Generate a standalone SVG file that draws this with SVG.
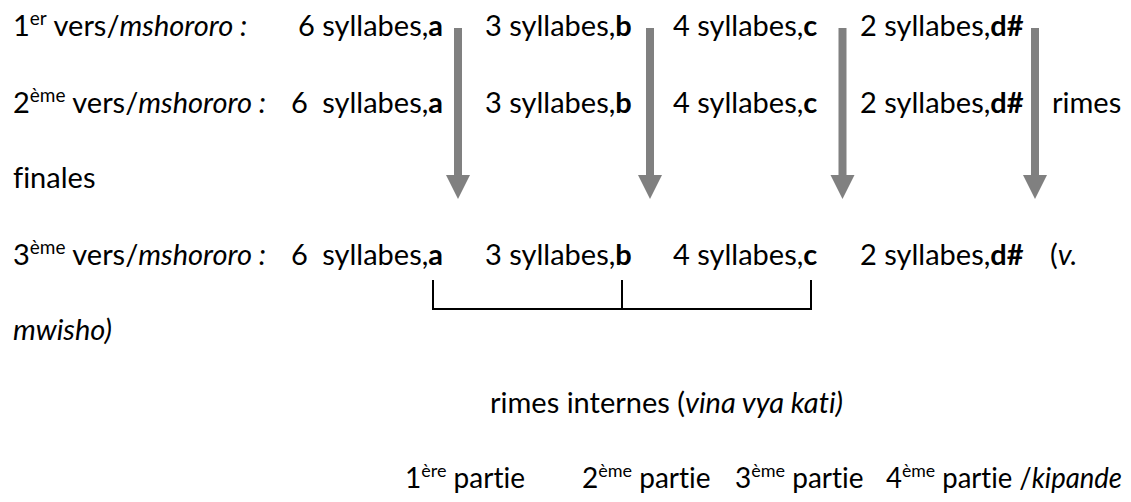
<svg xmlns="http://www.w3.org/2000/svg" width="1131" height="502" viewBox="0 0 1131 502">
<style>
text{font-family:Lato,"Liberation Sans",sans-serif;font-size:29px;fill:#000;font-variant-ligatures:none;font-feature-settings:"liga" 0}
.b{font-weight:bold}
.i{font-style:italic}
.sup{font-size:19px}
.p{font-size:28px}
.p .sup{font-size:18px}
.arrow{fill:#808080}
.br{fill:none;stroke:#000;stroke-width:2}
.e{text-anchor:end}
.w{word-spacing:7px}
</style>
<defs>
<path id="arr" d="M-4,0 H4 V147 H12 L0,171 L-12,147 H-4 Z"/>
</defs>
<rect width="1131" height="502" fill="#fff"/>
<g id="vers1">
<text x="13" y="36">1<tspan class="sup" dy="-11">er</tspan><tspan dy="11"> vers/</tspan><tspan class="i">mshororo :</tspan></text>
<text class="e" x="443" y="36">6 syllabes,<tspan class="b">a</tspan></text>
<text x="485" y="36">3 syllabes,<tspan class="b">b</tspan></text>
<text x="673" y="36">4 syllabes,<tspan class="b">c</tspan></text>
<text x="860" y="36">2 syllabes,<tspan class="b">d#</tspan></text>
</g>
<g id="vers2">
<text x="13" y="113">2<tspan class="sup" dy="-11">ème</tspan><tspan dy="11"> vers/</tspan><tspan class="i">mshororo :</tspan></text>
<text class="e w" x="443" y="113">6 syllabes,<tspan class="b">a</tspan></text>
<text x="485" y="113">3 syllabes,<tspan class="b">b</tspan></text>
<text x="673" y="113">4 syllabes,<tspan class="b">c</tspan></text>
<text x="860" y="113">2 syllabes,<tspan class="b">d#</tspan></text>
<text x="1052" y="113">rimes</text>
<text x="13" y="188">finales</text>
</g>
<g id="vers3">
<text x="13" y="265">3<tspan class="sup" dy="-11">ème</tspan><tspan dy="11"> vers/</tspan><tspan class="i">mshororo :</tspan></text>
<text class="e w" x="443" y="265">6 syllabes,<tspan class="b">a</tspan></text>
<text x="485" y="265">3 syllabes,<tspan class="b">b</tspan></text>
<text x="673" y="265">4 syllabes,<tspan class="b">c</tspan></text>
<text x="860" y="265">2 syllabes,<tspan class="b">d#</tspan></text>
<text x="1050" y="265">(<tspan class="i">v.</tspan></text>
<text class="i" x="13" y="340">mwisho)</text>
</g>
<g id="rimes-internes">
<text x="490" y="413">rimes internes (<tspan class="i">vina vya kati)</tspan></text>
</g>
<g id="parties">
<text class="p" x="405" y="488">1<tspan class="sup" dy="-11">ère</tspan><tspan dy="11"> partie</tspan></text>
<text class="p" x="582" y="488">2<tspan class="sup" dy="-11">ème</tspan><tspan dy="11"> partie</tspan></text>
<text class="p" x="735" y="488">3<tspan class="sup" dy="-11">ème</tspan><tspan dy="11"> partie</tspan></text>
<text class="p" x="886" y="488" textLength="236" lengthAdjust="spacingAndGlyphs">4<tspan class="sup" dy="-11">ème</tspan><tspan dy="11"> partie /</tspan><tspan class="i">kipande</tspan></text>
</g>
<g id="connectors">
<use href="#arr" class="arrow" x="458" y="28"/>
<use href="#arr" class="arrow" x="650" y="28"/>
<use href="#arr" class="arrow" x="842.5" y="28"/>
<use href="#arr" class="arrow" x="1035" y="28"/>
<path class="br" d="M433,280 V309 H811 V280 M622,280 V309"/>
</g>
</svg>
